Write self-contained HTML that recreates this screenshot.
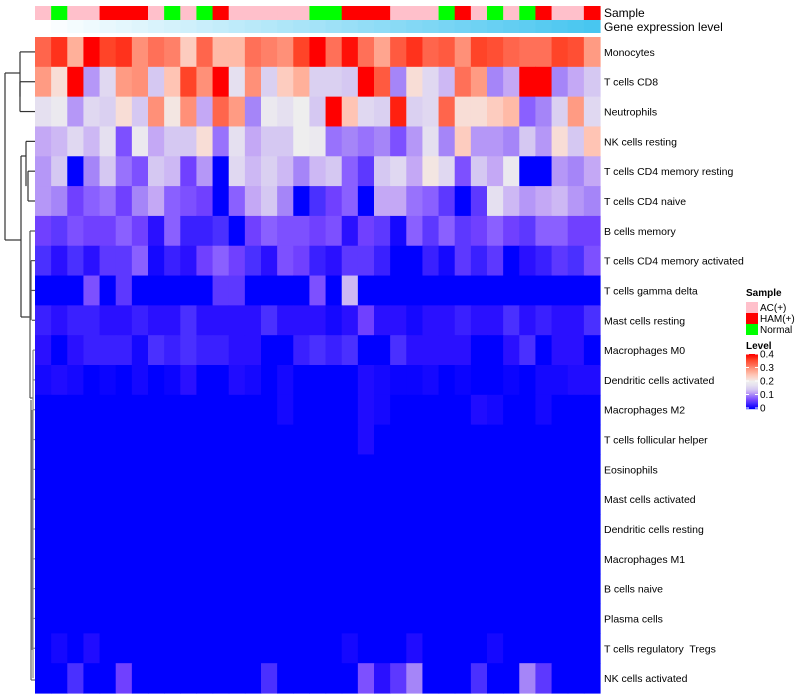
<!DOCTYPE html>
<html><head><meta charset="utf-8"><style>
body{margin:0;background:#fff;font-family:"Liberation Sans",sans-serif;}
svg{display:block}
text{white-space:pre}
</style></head><body>
<svg id="chart" width="800" height="700" xmlns="http://www.w3.org/2000/svg"></svg>
<script>
const rowLabels=["Monocytes","T cells CD8","Neutrophils","NK cells resting","T cells CD4 memory resting","T cells CD4 naive","B cells memory","T cells CD4 memory activated","T cells gamma delta","Mast cells resting","Macrophages M0","Dendritic cells activated","Macrophages M2","T cells follicular helper","Eosinophils","Mast cells activated","Dendritic cells resting","Macrophages M1","B cells naive","Plasma cells","T cells regulatory  Tregs","NK cells activated"];
const sampleGroups=["A","N","A","A","H","H","H","A","N","A","N","H","A","A","A","A","A","N","N","H","H","H","A","A","A","N","H","A","N","A","N","H","A","A","H"];
const geneLevel=[0,1,2,3,4,5,6,7,8,9,10,11,12,13,14,15,16,17,18,19,20,21,22,23,24,25,26,27,28,29,30,31,32,33,34];
const r0=[.33,.37,.27,.4,.36,.37,.3,.32,.31,.24,.33,.26,.26,.32,.31,.3,.36,.4,.32,.39,.32,.28,.34,.37,.33,.34,.3,.36,.35,.33,.32,.32,.36,.35,.29];
const r1=[.29,.22,.4,.11,.16,.29,.3,.14,.25,.36,.3,.4,.17,.3,.15,.24,.27,.15,.15,.14,.4,.34,.1,.22,.16,.13,.32,.29,.1,.12,.4,.4,.1,.12,.14];
const r2=[.17,.19,.11,.16,.15,.22,.14,.3,.21,.3,.12,.33,.29,.1,.19,.17,.2,.14,.4,.25,.16,.15,.38,.15,.16,.33,.22,.22,.24,.26,.08,.1,.15,.29,.16];
const r3=[.12,.13,.16,.13,.17,.07,.19,.12,.14,.14,.22,.09,.17,.12,.14,.14,.2,.19,.09,.1,.09,.1,.07,.11,.17,.1,.24,.11,.11,.1,.14,.11,.22,.14,.25];
const r4=[.11,.14,0,.1,.14,.09,.07,.14,.13,.06,.11,0,.16,.13,.15,.13,.1,.13,.14,.08,.05,.14,.16,.12,.21,.16,.07,.14,.12,.19,0,0,.11,.1,.12];
const r5=[.11,.1,.06,.08,.09,.06,.1,.12,.08,.07,.06,0,.08,.12,.14,.1,0,.04,.06,.08,0,.12,.12,.09,.08,.05,0,.05,.17,.13,.11,.12,.13,.11,.1];
const r6=[.06,.05,.07,.06,.06,.08,.06,.02,.08,.03,.03,.04,0,.06,.08,.07,.07,.06,.07,.02,.06,.05,.01,.08,.05,.08,.05,.06,.08,.06,.05,.08,.08,.06,.06];
const r7=[.04,.02,.04,.02,.05,.05,.08,.01,.03,.02,.06,.08,.06,.04,.02,.07,.06,.03,.02,.05,.05,.03,0,0,.03,.01,.05,.03,.05,0,.02,.03,.05,.04,.07];
const r8=[0,0,0,.07,0,.05,0,0,0,0,0,.05,.05,0,0,0,0,.07,0,.13,0,0,0,0,0,0,0,0,0,0,0,0,0,0,0];
const r9=[.03,.02,.03,.03,.02,.02,.03,.02,.02,.04,.02,.02,.02,.02,.04,.02,.02,.02,.01,.02,.06,.02,.02,.01,.02,.02,.03,.02,.02,.04,.02,.03,.02,.02,.04];
const r10=[.02,0,.02,.03,.03,.03,.01,.04,.03,.04,.03,.03,.02,.02,0,0,.03,.04,.03,.04,0,0,.04,.02,.02,.02,.02,0,0,.02,.04,0,.02,.02,0];
const r11=[.01,.015,.01,0,.005,0,.01,0,.005,.02,0,0,.015,.01,0,.01,0,0,0,0,.015,.01,.005,.005,.01,0,.005,0,0,.005,0,.01,.01,.015,.015];
const r12=[0,0,0,0,0,0,0,0,0,0,0,0,0,0,0,.01,0,0,0,0,.015,.01,0,0,0,0,0,.015,.01,0,0,.01,0,0,0];
const r13=[0,0,0,0,0,0,0,0,0,0,0,0,0,0,0,0,0,0,0,0,.015,0,0,0,0,0,0,0,0,0,0,0,0,0,0];
const r14=[0,0,0,0,0,0,0,0,0,0,0,0,0,0,0,0,0,0,0,0,0,0,0,0,0,0,0,0,0,0,0,0,0,0,0];
const r15=[0,0,0,0,0,0,0,0,0,0,0,0,0,0,0,0,0,0,0,0,0,0,0,0,0,0,0,0,0,0,0,0,0,0,0];
const r16=[0,0,0,0,0,0,0,0,0,0,0,0,0,0,0,0,0,0,0,0,0,0,0,0,0,0,0,0,0,0,0,0,0,0,0];
const r17=[0,0,0,0,0,0,0,0,0,0,0,0,0,0,0,0,0,0,0,0,0,0,0,0,0,0,0,0,0,0,0,0,0,0,0];
const r18=[0,0,0,0,0,0,0,0,0,0,0,0,0,0,0,0,0,0,0,0,0,0,0,0,0,0,0,0,0,0,0,0,0,0,0];
const r19=[0,0,0,0,0,0,0,0,0,0,0,0,0,0,0,0,0,0,0,0,0,0,0,0,0,0,0,0,0,0,0,0,0,0,0];
const r20=[0,.01,0,.015,0,0,0,0,0,0,0,0,0,0,0,0,0,0,0,.01,0,0,0,.015,0,0,0,0,.01,0,0,0,0,0,0];
const r21=[0,0,.04,0,0,.06,0,0,0,0,0,0,0,0,.04,0,0,0,0,0,.07,.02,.05,.1,0,0,0,.04,0,0,.1,.05,0,0,0];
const values=[r0,r1,r2,r3,r4,r5,r6,r7,r8,r9,r10,r11,r12,r13,r14,r15,r16,r17,r18,r19,r20,r21];
const levelTicks=[0,0.1,0.2,0.3,0.4];
const sampleNames=["AC(+)","HAM(+)","Normal"];

const NS="http://www.w3.org/2000/svg";
const svg=document.getElementById('chart');
function mk(tag,attrs,parent){const e=document.createElementNS(NS,tag);for(const k in attrs)e.setAttribute(k,attrs[k]);(parent||svg).appendChild(e);return e;}
const stops=[[0,[0,0,255]],[.02,[42,16,255]],[.04,[74,48,255]],[.06,[112,64,255]],[.08,[138,96,255]],[.1,[165,133,248]],[.12,[196,168,245]],[.14,[213,200,242]],[.17,[229,224,240]],[.2,[238,238,238]],[.22,[248,221,214]],[.25,[255,196,180]],[.27,[255,176,154]],[.3,[255,144,120]],[.32,[255,112,88]],[.34,[255,90,64]],[.36,[255,68,40]],[.38,[255,32,16]],[.4,[255,0,0]]];
function col(v){v=Math.max(0,Math.min(.4,v));for(let i=1;i<stops.length;i++){if(v<=stops[i][0]){const a=stops[i-1],b=stops[i];const t=(v-a[0])/(b[0]-a[0]);const c=a[1].map((x,j)=>Math.round(x+(b[1][j]-x)*t));return `rgb(${c})`;}}return 'rgb(255,0,0)';}
const X0=35,X1=600,Y0=37,Y1=693;
const nC=sampleGroups.length,nR=rowLabels.length;
const cw=(X1-X0)/nC,rh=(Y1-Y0)/nR;
const xs=i=>X0+i*cw, ys=i=>Y0+i*rh;
const sampleColor={A:"#FFC0CB",H:"#FF0000",N:"#00FF00"};
const gMax=Math.max(...geneLevel);
function geneCol(v){const t=v/gMax;const a=[255,255,255],b=[72,198,240];return `rgb(${a.map((x,j)=>Math.round(x+(b[j]-x)*t))})`;}

const g=mk('g',{});


for(let r=0;r<nR;r++)for(let c=0;c<nC;c++){
  const e=mk('rect',{x:xs(c),y:ys(r),width:cw+0.6,height:rh+0.6,fill:col(values[r][c])},g);
  
  
}
for(let c=0;c<nC;c++){
  const s=mk('rect',{x:xs(c),y:6,width:cw+0.6,height:14,fill:sampleColor[sampleGroups[c]]});
  
  
  const ge=mk('rect',{x:xs(c),y:20,width:cw+0.6,height:13,fill:geneCol(geneLevel[c])});
  
  
}
const t1=mk('text',{x:604,y:17,'font-size':12});t1.textContent="Sample";

const t2=mk('text',{x:604,y:31,'font-size':12});t2.textContent="Gene expression level";

for(let r=0;r<nR;r++){
  const t=mk('text',{x:604,y:ys(r)+rh/2+4,'font-size':10.5});t.textContent=rowLabels[r];
  
  
}
const cy=i=>ys(i)+rh/2;
const dg=mk('g',{stroke:'#333','stroke-width':1.2,fill:'none'});


function L(x1,y1,x2,y2,c){const l=mk('line',{x1,y1,x2,y2},dg);if(c)l.setAttribute('stroke',c);}
L(20,cy(1),35,cy(1));L(20,cy(2),35,cy(2));L(20,cy(1),20,cy(2));
L(20,cy(0),35,cy(0));L(20,cy(0),20,(cy(1)+cy(2))/2);
L(5,73,20,73);L(5,73,5,240);L(5,240,21,240);
L(28,cy(4),35,cy(4));L(28,cy(5),35,cy(5));L(28,cy(4),28,cy(5));
L(26,cy(3),35,cy(3));L(26,cy(3),26,(cy(4)+cy(5))/2);
L(21,156,26,156);L(21,156,21,317);L(21,317,30,317);
L(30,231,35,231,'#555');L(30,231,30,398,'#555');
L(31,cy(7),35,cy(7),'#555');L(31,cy(8),35,cy(8),'#555');L(31,cy(7),31,cy(9),'#555');
L(32,cy(9),35,cy(9),'#555');L(30,398,33,398,'#555');
L(31,400,31,680,'#666');L(32,410,32,650,'#777');L(33,cy(10),33,cy(21),'#888');
L(31,680,35,680,'#666');
for(let r=10;r<21;r++)L(33,cy(r),35,cy(r),'#888');
const lg=mk('g',{});


const lt=mk('text',{x:746,y:296,'font-size':10,'font-weight':'bold'},lg);lt.textContent="Sample";
const sk=["A","H","N"];
sampleNames.forEach((n,i)=>{
  const r=mk('rect',{x:746,y:302+i*11,width:12,height:11,fill:sampleColor[sk[i]]},lg);
  
  const t=mk('text',{x:760,y:311+i*11,'font-size':10},lg);t.textContent=n;
  
});
const lv=mk('text',{x:746,y:349,'font-size':10,'font-weight':'bold'},lg);lv.textContent="Level";
const cb0=354,cb1=408;
for(let k=0;k<=54;k++){const v=0.4*(1-k/54);mk('rect',{x:746,y:cb0+k,width:12,height:1.2,fill:col(v)},lg);}
levelTicks.forEach(v=>{const y=cb1-(cb1-cb0)*v/0.4;
  mk('line',{x1:746,x2:749,y1:y,y2:y,stroke:'#fff'},lg);mk('line',{x1:755,x2:758,y1:y,y2:y,stroke:'#fff'},lg);
  const t=mk('text',{x:760,y:y+3.5,'font-size':10},lg);t.textContent=String(v);
  });
</script>
</body></html>
